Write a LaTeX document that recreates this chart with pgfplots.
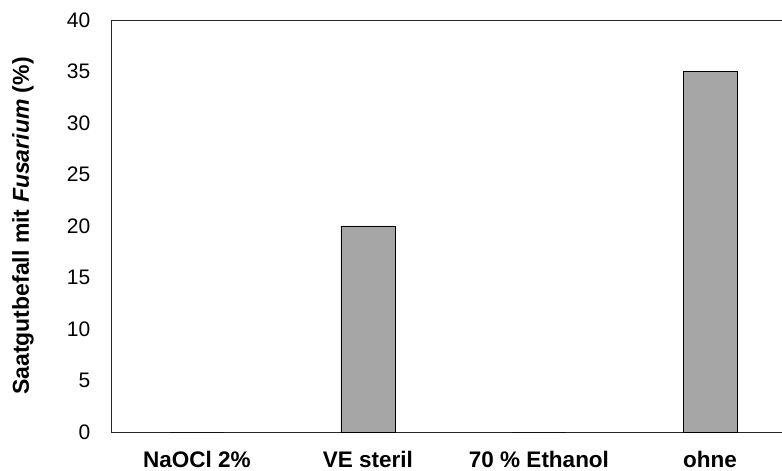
\documentclass[border=0pt]{standalone}
\usepackage{fontspec}
\setmainfont{Liberation Sans}
\usepackage{pgfplots}
\pgfplotsset{compat=1.18}
\definecolor{BarGray}{HTML}{A6A6A6}
\definecolor{AxisGray}{HTML}{262626}

\begin{document}
\begin{tikzpicture}
  \begin{axis}[
    scale only axis,
    width=684pt, height=412pt,
    xmin=-0.5, xmax=3.5,
    ymin=0, ymax=40,
    ytick={0,5,...,40},
    xtick={0,1,2,3},
    xticklabels={NaOCl 2\%, VE steril, 70 \% Ethanol, ohne},
    major tick length=0pt,
    axis line style={AxisGray, line width=0.9pt},
    /pgf/number format/assume math mode=true,
    tick label style={font=\fontsize{21}{25}\selectfont},
    y tick label style={anchor=east, inner sep=0pt, xshift=-21pt},
    x tick label style={anchor=base, inner sep=0pt, yshift=-35pt,
      font=\fontsize{22.5}{26}\selectfont\bfseries},
    ylabel={Saatgutbefall mit \textit{Fusarium} (\%)},
    ylabel style={at={(axis description cs:-0.1294,0.5)}, anchor=center,
      inner sep=0pt, font=\fontsize{23}{26}\selectfont\bfseries},
    clip=false,
  ]
    \addplot[ybar, bar width=54pt, fill=BarGray, draw=black, line width=0.8pt]
      coordinates {(0,0) (1,20) (2,0) (3,35)};
    \coordinate (o) at (rel axis cs:0,0);
  \end{axis}
  \pgfresetboundingbox
  \path ([xshift=-111.5pt,yshift=-39pt]o) rectangle ++(782pt,471pt);
\end{tikzpicture}
\end{document}
